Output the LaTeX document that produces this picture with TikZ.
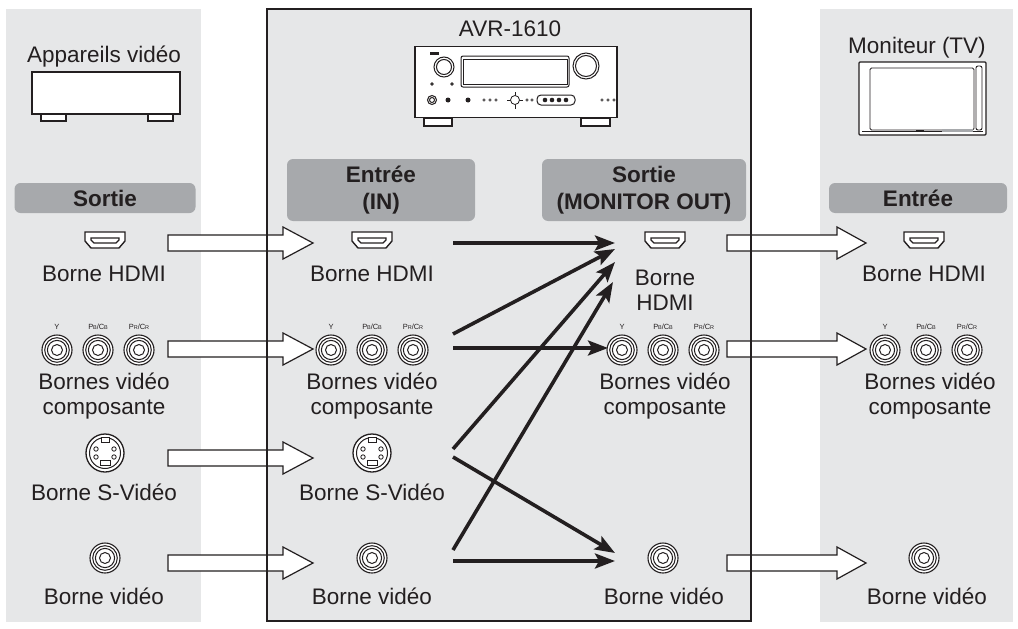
\documentclass[tikz,border=0pt]{standalone}
\usepackage{fontspec}
\setmainfont{Liberation Sans}
\usetikzlibrary{arrows.meta}
\definecolor{panel}{HTML}{E6E7E8}
\definecolor{lab}{HTML}{A7A9AC}
\definecolor{ink}{HTML}{231F20}
\begin{document}
\begin{tikzpicture}[x=1pt,y=-1pt,
  txt/.style={font=\fontsize{22.5}{25}\selectfont,text=ink,align=center,inner sep=0},
  btxt/.style={font=\fontsize{22.5}{27}\selectfont\bfseries,text=ink,align=center,inner sep=0},
  labbox/.style={fill=lab,rounded corners=6pt},
  blk/.style={line width=3.6pt,ink,-{Stealth[length=20pt,width=15pt,inset=4pt]}},
  hol/.style={fill=white,draw=ink,line width=1.2pt},
  dev/.style={draw=ink,line width=1.2pt,fill=white},
  sm/.style={font=\fontsize{7.5}{8}\selectfont,text=ink,inner sep=0},
  hdmi/.pic={\draw[ink,line width=1.4pt,fill=white] (-20,-8)--(20,-8)--(20,1)--(14,8)--(-14,8)--(-20,1)--cycle;
             \draw[ink,line width=1.1pt] (-14,-2)--(14,-2)--(14,0)--(11,3)--(-11,3)--(-14,0)--cycle;},
  rca/.pic={\draw[ink,line width=1.1pt,fill=white] (0,0) circle (15);
            \draw[ink,line width=1pt] (0,0) circle (12.3) (0,0) circle (9.6) (0,0) circle (5.5);},
  svid/.pic={\draw[ink,line width=1.3pt,fill=white] (0,0) circle (19);
             \draw[ink,line width=1pt] (0,0) circle (15.5);
             \draw[ink,line width=1pt,fill=white] (-4,-15.5) rectangle (4,-11);
             \draw[ink,line width=1pt] (-5,7) rectangle (5,12);
             \foreach \p in {(-9,-4),(9,-4),(-9,4),(9,4)} \draw[ink,line width=0.8pt] \p circle (2.2);},
  comp/.pic={\path (-41,0) pic{rca} (0,0) pic{rca} (41,0) pic{rca};
             \node[sm] at (-41,-23) {Y};
             \node[sm] at (0,-23) {P\kern-0.2pt{\fontsize{5.5}{6}\selectfont B}/C\kern-0.2pt{\fontsize{5.5}{6}\selectfont B}};
             \node[sm] at (41,-23) {P\kern-0.2pt{\fontsize{5.5}{6}\selectfont R}/C\kern-0.2pt{\fontsize{5.5}{6}\selectfont R}};},
]
\useasboundingbox (0,0) rectangle (1018,629);
\fill[white] (0,0) rectangle (1018,629);
% panels
\fill[panel] (6,9) rectangle (201,622);
\fill[panel] (820,9) rectangle (1013,622);
\fill[panel] (267,9) rectangle (751,621);

% left device
\node[txt] (tL) at (104,57) {Appareils vidéo};
\node[draw=ink,line width=1.2pt,fill=white,minimum width=148,minimum height=42,inner sep=0] (devL) at (106,93) {};
\draw[dev] (41,114) rectangle (66,121);
\draw[dev] (148,114) rectangle (173,121);

% receiver
\node[txt] (tC) at (510,29) {AVR-1610};
\node[draw=ink,line width=1.2pt,fill=white,minimum width=202,minimum height=71,inner sep=0] (avr) at (516,82) {};
\draw[dev] (424,118) rectangle (452,126);
\draw[dev] (581,118) rectangle (610,126);
\fill[ink] (430,52) rectangle (439,55);
\draw[ink,line width=1pt] (444,67) circle (10) (444,67) circle (7.5);
\draw[ink,line width=1pt] (586,66) circle (13) (586,66) circle (10.5);
\draw[ink,line width=1pt,rounded corners=2pt] (461,56) rectangle (569,87);
\draw[ink,line width=0.8pt] (463,59) rectangle (567,84);
\foreach \x in {432,452} \draw[ink,line width=0.8pt] (\x,84) circle (1.3);
\draw[ink,line width=1pt] (432,100) circle (4.5) (432,100) circle (2.5);
\fill[ink] (448,100) circle (2.5) (468,100) circle (2.5);
\foreach \x in {484,490,496,527,532,602,608,614} \draw[ink,line width=0.6pt] (\x,100) circle (1.3);
\draw[ink,line width=1pt] (515,92)--(515,109) (507,100)--(523,100);
\draw[ink,line width=0.8pt,fill=white] (515,100) circle (4.5);
\draw[ink,line width=1pt,rounded corners=4pt] (537,95) rectangle (575,105);
\foreach \x in {545,552,559,566} \fill[ink] (\x,100) circle (2.3);

% TV
\node[txt] (tR) at (917,48) {Moniteur (TV)};
\draw[dev,rounded corners=1pt] (859,62) rectangle (986,135);
\draw[ink,line width=0.9pt,rounded corners=1.5pt] (870,68) rectangle (974,130);
\draw[ink,line width=0.9pt,rounded corners=2pt] (976,66) rectangle (982,130);
\draw[ink,line width=0.8pt] (862,131) -- (983,131);
\fill[lab] (942,129) rectangle (973,132);
\fill[ink] (916,130) rectangle (924,131.5);

% label boxes
\node[labbox,minimum width=181,minimum height=30] (bL) at (105,198) {};
\node[btxt] at (bL) {Sortie};
\node[labbox,minimum width=188,minimum height=62] (bI) at (381,190) {};
\node[btxt] at (bI) {Entrée\\(IN)};
\node[labbox,minimum width=204,minimum height=62] (bO) at (644,190) {};
\node[btxt] at (bO) {Sortie\\(MONITOR OUT)};
\node[labbox,minimum width=178,minimum height=30] (bR) at (918,198) {};
\node[btxt] at (bR) {Entrée};

% hollow arrows (under the box border)
\foreach \y in {243,349,458,563} {
  \draw[hol] (168,\y-8)--(283,\y-8)--(283,\y-16)--(313,\y)--(283,\y+16)--(283,\y+8)--(168,\y+8)--cycle;}
\foreach \y in {243,349,563} {
  \draw[hol] (727,\y-8)--(837,\y-8)--(837,\y-16)--(866,\y)--(837,\y+16)--(837,\y+8)--(727,\y+8)--cycle;}
\draw[ink,line width=1.5pt] (267,9) rectangle (751,621);

% connectors: left
\path (105,240) pic{hdmi};
\node[txt] (lh) at (104,274) {Borne HDMI};
\path (98,350) pic{comp};
\node[txt] (lc) at (104,396) {Bornes vidéo\\composante};
\path (105,453) pic{svid};
\node[txt] (ls) at (104,492) {Borne S-Vidéo};
\path (105,558) pic{rca};
\node[txt] (lv) at (104,596) {Borne vidéo};

% center in
\path (372,240) pic{hdmi};
\node[txt] (ih) at (372,274) {Borne HDMI};
\path (372,350) pic{comp};
\node[txt] (ic) at (372,396) {Bornes vidéo\\composante};
\path (372,453) pic{svid};
\node[txt] (is) at (372,492) {Borne S-Vidéo};
\path (372,558) pic{rca};
\node[txt] (iv) at (372,596) {Borne vidéo};

% center out
\path (665,240) pic{hdmi};
\node[txt] (oh) at (665,290) {Borne\\HDMI};
\path (663,350) pic{comp};
\node[txt] (oc) at (665,396) {Bornes vidéo\\composante};
\path (663,558) pic{rca};
\node[txt] (ov) at (664,596) {Borne vidéo};

% right
\path (924,240) pic{hdmi};
\node[txt] (rh) at (924,274) {Borne HDMI};
\path (926,350) pic{comp};
\node[txt] (rc) at (930,396) {Bornes vidéo\\composante};
\path (924,558) pic{rca};
\node[txt] (rv) at (927,596) {Borne vidéo};

% black arrows
\coordinate (s1) at (453,243); \coordinate (e1) at (615,243);
\coordinate (s2) at (453,334); \coordinate (e2) at (615,249);
\coordinate (s3) at (453,348); \coordinate (e3) at (608,348);
\coordinate (s4) at (453,449); \coordinate (e4) at (615,262);
\coordinate (s5) at (453,457); \coordinate (e5) at (615,553);
\coordinate (s6) at (453,550); \coordinate (e6) at (613,282);
\coordinate (s7) at (453,561); \coordinate (e7) at (615,561);
\foreach \i in {1,...,7} \draw[blk] (s\i) -- (e\i);
\end{tikzpicture}
\end{document}
